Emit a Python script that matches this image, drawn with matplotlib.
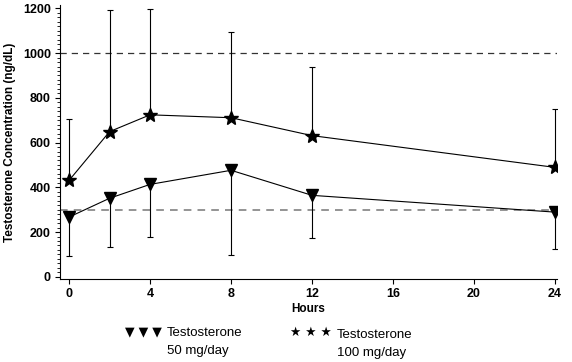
import matplotlib
matplotlib.use("Agg")
import matplotlib.pyplot as plt
from matplotlib.ticker import MultipleLocator

plt.rcParams['font.family'] = ['Liberation Sans', 'DejaVu Sans']

# data
hours = [0, 2, 4, 8, 12, 24]
t100_mean = [431, 649, 724, 711, 631, 489]
t100_upper = [707, 1194, 1195, 1093, 938, 751]
t50_mean = [267, 351, 413, 476, 364, 289]
t50_lower = [93, 133, 178, 98, 173, 124]
ref_lines = [1000, 300]
xticks = [0, 4, 8, 12, 16, 20, 24]
yticks = [0, 200, 400, 600, 800, 1000, 1200]

fig = plt.figure(figsize=(5.72, 3.62), dpi=100)
ax = fig.add_axes([60/572, 1 - 279/362, (557-60)/572, (279-5)/362])

ax.axhline(ref_lines[0], color='#333333', lw=0.9, ls=(0, (5, 4)), zorder=1)
ax.axhline(ref_lines[1], color='#777777', lw=1.1, ls=(0, (5, 4)), zorder=1)

up_err = [u - m for u, m in zip(t100_upper, t100_mean)]
ax.errorbar(hours, t100_mean, yerr=[[0]*len(hours), up_err], fmt='none',
            ecolor='black', elinewidth=0.8, capsize=2.5, capthick=0.8, zorder=2)
lo_err = [m - l for m, l in zip(t50_mean, t50_lower)]
ax.errorbar(hours, t50_mean, yerr=[lo_err, [0]*len(hours)], fmt='none',
            ecolor='black', elinewidth=0.8, capsize=2.5, capthick=0.8, zorder=2)

ax.plot(hours, t100_mean, color='black', lw=0.8, marker='*', ms=10,
        markerfacecolor='black', zorder=3)
ax.plot(hours, t50_mean, color='black', lw=0.8, marker='v', ms=8,
        markerfacecolor='black', zorder=3)

ax.set_xlim(-0.45, 24.1)
ax.set_ylim(-10, 1215)
ax.set_xticks(xticks)
ax.set_yticks(yticks)
ax.yaxis.set_minor_locator(MultipleLocator(20))
ax.spines['top'].set_visible(False)
ax.spines['right'].set_visible(False)
ax.tick_params(axis='both', which='major', direction='out', length=3.5, width=0.8,
               labelsize=9, pad=3)
ax.tick_params(axis='y', which='minor', direction='out', length=2, width=0.6)
for lab in ax.get_xticklabels() + ax.get_yticklabels():
    lab.set_fontweight('bold')

ax.set_xlabel('Hours', fontsize=8.5, fontweight='bold', labelpad=2)
ax.set_ylabel('Testosterone Concentration (ng/dL)', fontsize=8.5, fontweight='bold',
              labelpad=5)

# legend below the axes
fig.text(125/572, 1 - 332/362, '\u25bc \u25bc \u25bc', fontsize=9, va='center',
         family=['DejaVu Sans'])
fig.text(167/572, 1 - 333/362, 'Testosterone', fontsize=9.5, va='center')
fig.text(167/572, 1 - 351/362, '50 mg/day', fontsize=9.5, va='center')
fig.text(290/572, 1 - 332/362, '\u2605 \u2605 \u2605', fontsize=9, va='center',
         family=['DejaVu Sans'])
fig.text(337/572, 1 - 335/362, 'Testosterone', fontsize=9.5, va='center')
fig.text(337/572, 1 - 353/362, '100 mg/day', fontsize=9.5, va='center')

fig.savefig('out.png', dpi=100)
